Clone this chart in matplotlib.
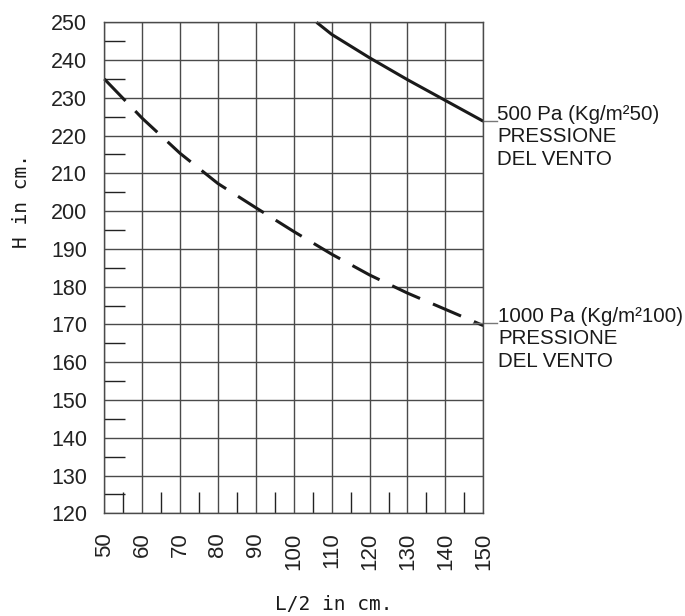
import matplotlib
matplotlib.use("Agg")
import matplotlib.pyplot as plt

# Data
x_500 = [106, 110, 120, 130, 140, 150]
h_500 = [250, 246.8, 240.6, 234.8, 229.3, 223.8]

x_1000 = [50, 60, 70, 80, 90, 100, 110, 120, 130, 140, 150]
h_1000 = [235, 224.6, 215.3, 207.3, 200.9, 194.6, 188.6, 183.1, 178.3, 174.0, 169.7]

x_ticks = [50, 60, 70, 80, 90, 100, 110, 120, 130, 140, 150]
y_ticks = [120, 130, 140, 150, 160, 170, 180, 190, 200, 210, 220, 230, 240, 250]

label_500 = ["500 Pa (Kg/m\u00b250)", "PRESSIONE", "DEL VENTO"]
label_1000 = ["1000 Pa (Kg/m\u00b2100)", "PRESSIONE", "DEL VENTO"]

W, H = 685, 616
fig = plt.figure(figsize=(W / 100, H / 100), dpi=100)
ax = fig.add_axes([104.3 / W, 1 - 513.3 / H, (483.3 - 104.3) / W, (513.3 - 22.3) / H])

ax.set_xlim(50, 150)
ax.set_ylim(120, 250)

grid_c = "#4a4a4a"
ax.set_xticks(x_ticks)
ax.set_yticks(y_ticks)
ax.set_xticks([v + 5 for v in x_ticks[:-1]], minor=True)
ax.set_yticks([v + 5 for v in y_ticks[:-1]], minor=True)
ax.grid(True, which="major", color=grid_c, linewidth=1.0)
ax.tick_params(which="major", length=0)
ax.tick_params(axis="y", which="major", pad=12.5)
ax.tick_params(axis="x", which="major", pad=14)
ax.tick_params(which="minor", direction="in", length=15, width=1.0, color="#222222")
for s in ax.spines.values():
    s.set_color(grid_c)
    s.set_linewidth(1.0)

ax.set_yticklabels([str(v) for v in y_ticks], fontsize=15.5, family="Liberation Sans", color="#222222")
ax.set_xticklabels([str(v) for v in x_ticks], fontsize=16, family="Liberation Sans",
                   rotation=90, va="top", ha="center", color="#222222")

ax.plot(x_500, h_500, color="#1a1a1a", linewidth=2.2, solid_capstyle="butt", clip_on=False)
ax.plot(x_1000, h_1000, color="#1a1a1a", linewidth=2.2, dashes=(10, 4.6),
        dash_capstyle="butt", clip_on=False)

# leader lines and labels
ax.plot([150, 153.6], [h_500[-1], h_500[-1]], color="#777777", linewidth=1.0, clip_on=False)
ax.plot([147.4, 153.6], [170.3, 170.3], color="#777777", linewidth=1.0, clip_on=False)

def put_label(lines, x_px, base_px):
    # base_px: pixel row (from top) of first line's baseline
    step = 22.5
    for i, t in enumerate(lines):
        fig.text(x_px / W, 1 - (base_px + i * step) / H, t, fontsize=14.8,
                 family="Liberation Sans", color="#1a1a1a", ha="left", va="baseline")

put_label(label_500, 497, 120)
put_label(label_1000, 498, 322)

fig.text(22 / W, 1 - 201 / H, "H in cm.", rotation=90, fontsize=14, family="DejaVu Sans Mono",
         ha="center", va="center", color="#1a1a1a")
fig.text(334 / W, 1 - 605 / H, "L/2 in cm.", fontsize=14, family="DejaVu Sans Mono",
         ha="center", va="center", color="#1a1a1a")

fig.savefig("out.png", dpi=100)
